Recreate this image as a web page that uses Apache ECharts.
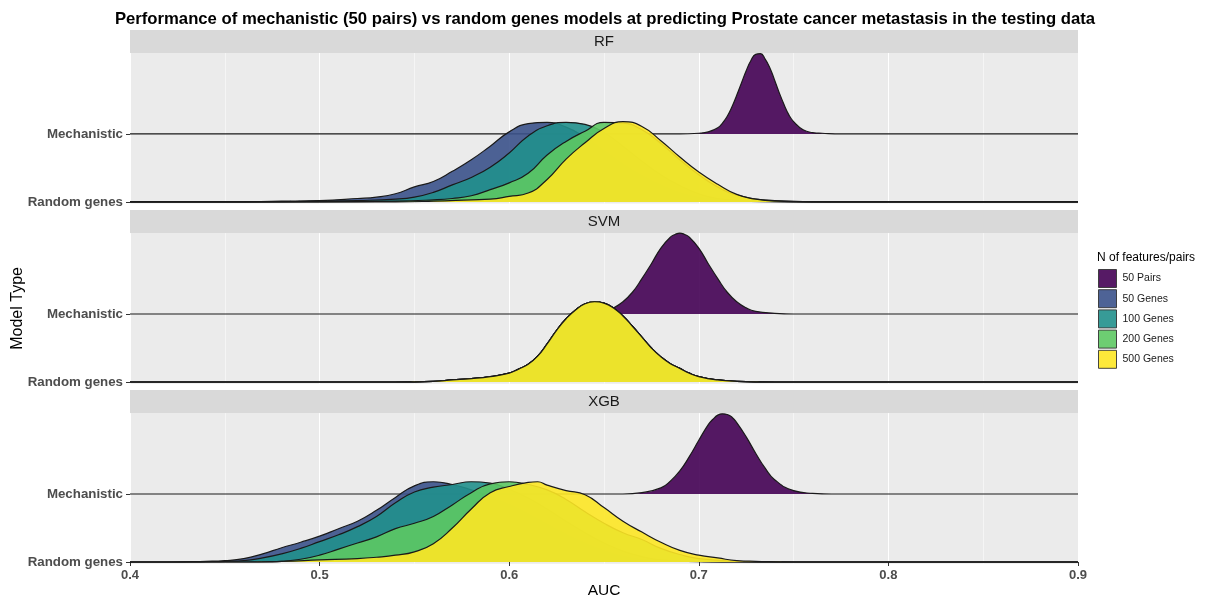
<!DOCTYPE html>
<html>
<head>
<meta charset="utf-8">
<script src="https://cdn.jsdelivr.net/npm/echarts@6/dist/echarts.min.js"></script>
<style>
html,body{margin:0;padding:0;background:#fff;}
#chart{width:1205px;height:601px;}
</style>
</head>
<body>
<div id="chart"></div>
<script>
// ---- Data ----
const facets = ['RF', 'SVM', 'XGB'];
const rowLabels = ['Random genes', 'Mechanistic'];
const groups = ['50 Pairs', '50 Genes', '100 Genes', '200 Genes', '500 Genes'];
const xTicks = [0.4, 0.5, 0.6, 0.7, 0.8, 0.9];

// ridge heights [AUC, height] ; Mechanistic ridges = 50 Pairs, Random ridges = genes
const rfPairs = [[0.4,0],[0.69,0],[0.70,0.01],[0.705,0.03],[0.71,0.09],[0.7125,0.16],[0.715,0.26],[0.7175,0.40],[0.72,0.57],[0.7225,0.75],[0.725,0.93],[0.7275,1.08],[0.73,1.17],[0.7325,1.18],[0.735,1.10],[0.7375,0.97],[0.74,0.79],[0.7425,0.60],[0.745,0.43],[0.7475,0.28],[0.75,0.18],[0.755,0.06],[0.76,0.02],[0.765,0.01],[0.775,0],[0.9,0]];
const rf50 = [[0.4,0],[0.45,0],[0.48,0.01],[0.50,0.02],[0.52,0.05],[0.53,0.07],[0.54,0.12],[0.55,0.22],[0.56,0.30],[0.57,0.45],[0.58,0.62],[0.59,0.82],[0.60,1.03],[0.61,1.15],[0.62,1.17],[0.63,1.10],[0.64,0.95],[0.65,0.75],[0.66,0.55],[0.67,0.38],[0.68,0.24],[0.69,0.13],[0.70,0.06],[0.72,0.01],[0.75,0],[0.9,0]];
const rf100 = [[0.4,0],[0.46,0],[0.50,0.01],[0.52,0.02],[0.54,0.04],[0.55,0.07],[0.56,0.14],[0.57,0.25],[0.58,0.36],[0.59,0.51],[0.60,0.72],[0.61,0.97],[0.62,1.12],[0.63,1.17],[0.64,1.14],[0.65,1.02],[0.66,0.82],[0.67,0.60],[0.68,0.40],[0.69,0.24],[0.70,0.12],[0.71,0.05],[0.73,0.01],[0.76,0],[0.9,0]];
const rf200 = [[0.4,0],[0.50,0],[0.54,0.01],[0.56,0.03],[0.57,0.05],[0.58,0.09],[0.59,0.18],[0.60,0.28],[0.61,0.42],[0.62,0.69],[0.63,0.89],[0.64,1.04],[0.65,1.17],[0.66,1.16],[0.67,1.06],[0.68,0.86],[0.69,0.62],[0.70,0.40],[0.71,0.22],[0.72,0.10],[0.74,0.02],[0.77,0],[0.9,0]];
const rf500 = [[0.4,0],[0.54,0],[0.56,0.01],[0.58,0.03],[0.59,0.04],[0.60,0.08],[0.61,0.13],[0.62,0.33],[0.63,0.63],[0.64,0.87],[0.65,1.08],[0.66,1.18],[0.67,1.11],[0.68,0.90],[0.69,0.66],[0.70,0.44],[0.71,0.26],[0.72,0.11],[0.73,0.04],[0.74,0.01],[0.76,0],[0.9,0]];

const svmPairs = [[0.4,0],[0.63,0],[0.64,0.01],[0.65,0.04],[0.655,0.09],[0.66,0.18],[0.665,0.32],[0.67,0.52],[0.675,0.74],[0.68,0.97],[0.685,1.13],[0.6875,1.17],[0.69,1.19],[0.6925,1.17],[0.695,1.13],[0.70,0.97],[0.705,0.74],[0.71,0.52],[0.715,0.32],[0.72,0.18],[0.725,0.09],[0.73,0.04],[0.74,0.01],[0.75,0],[0.9,0]];
// the four random-gene ridges coincide in the SVM panel
const svmGenes = [[0.4,0],[0.54,0],[0.56,0.01],[0.57,0.03],[0.58,0.05],[0.59,0.08],[0.60,0.13],[0.605,0.19],[0.61,0.26],[0.615,0.38],[0.62,0.56],[0.625,0.76],[0.63,0.93],[0.635,1.06],[0.64,1.15],[0.645,1.18],[0.65,1.16],[0.655,1.09],[0.66,0.97],[0.665,0.82],[0.67,0.66],[0.675,0.50],[0.68,0.37],[0.685,0.27],[0.69,0.20],[0.695,0.13],[0.70,0.08],[0.71,0.03],[0.72,0.01],[0.74,0],[0.9,0]];

const xgbPairs = [[0.4,0],[0.66,0],[0.67,0.02],[0.68,0.09],[0.685,0.19],[0.69,0.34],[0.695,0.55],[0.70,0.79],[0.705,1.02],[0.7075,1.10],[0.71,1.16],[0.7125,1.18],[0.715,1.17],[0.7175,1.13],[0.72,1.05],[0.725,0.84],[0.73,0.60],[0.735,0.38],[0.74,0.21],[0.75,0.05],[0.76,0.01],[0.77,0],[0.9,0]];
const xgb50 = [[0.4,0],[0.42,0],[0.44,0.01],[0.45,0.02],[0.46,0.05],[0.47,0.12],[0.48,0.21],[0.49,0.29],[0.50,0.38],[0.51,0.49],[0.52,0.60],[0.53,0.76],[0.54,0.95],[0.55,1.12],[0.56,1.18],[0.57,1.14],[0.58,1.06],[0.59,0.96],[0.60,0.84],[0.61,0.70],[0.62,0.55],[0.63,0.40],[0.64,0.27],[0.65,0.16],[0.66,0.08],[0.67,0.03],[0.69,0.01],[0.72,0],[0.9,0]];
const xgb100 = [[0.4,0],[0.43,0],[0.45,0.01],[0.46,0.02],[0.47,0.06],[0.48,0.12],[0.49,0.20],[0.50,0.30],[0.51,0.40],[0.52,0.52],[0.53,0.67],[0.54,0.87],[0.55,1.03],[0.56,1.10],[0.57,1.14],[0.58,1.18],[0.59,1.16],[0.60,1.07],[0.61,0.94],[0.62,0.78],[0.63,0.60],[0.64,0.43],[0.65,0.28],[0.66,0.16],[0.67,0.08],[0.68,0.03],[0.70,0.01],[0.72,0],[0.9,0]];
const xgb200 = [[0.4,0],[0.47,0],[0.48,0.01],[0.49,0.04],[0.50,0.10],[0.51,0.19],[0.52,0.28],[0.53,0.37],[0.54,0.49],[0.55,0.57],[0.56,0.67],[0.57,0.84],[0.58,1.02],[0.59,1.15],[0.60,1.18],[0.61,1.14],[0.62,1.06],[0.63,0.92],[0.64,0.74],[0.65,0.57],[0.66,0.43],[0.67,0.33],[0.68,0.20],[0.69,0.11],[0.70,0.05],[0.72,0.01],[0.74,0],[0.9,0]];
const xgb500 = [[0.4,0],[0.46,0],[0.48,0.01],[0.50,0.03],[0.52,0.05],[0.53,0.07],[0.54,0.10],[0.55,0.15],[0.56,0.27],[0.57,0.50],[0.58,0.78],[0.59,1.02],[0.60,1.11],[0.61,1.17],[0.615,1.18],[0.62,1.13],[0.63,1.05],[0.64,0.99],[0.65,0.80],[0.66,0.60],[0.67,0.44],[0.68,0.29],[0.69,0.17],[0.70,0.10],[0.71,0.06],[0.72,0.02],[0.73,0.01],[0.75,0],[0.9,0]];

const ridges = [
  [rfPairs, rf50, rf100, rf200, rf500],
  [svmPairs, svmGenes, svmGenes, svmGenes, svmGenes],
  [xgbPairs, xgb50, xgb100, xgb200, xgb500]
];

// ---- Styling ----
const colors = ['#440154', '#3B528B', '#21908C', '#5DC863', '#FDE725'];
const FONT = 'Liberation Sans, Arial, Helvetica, sans-serif';
const panelTops = [53, 233.1, 413.1];
const panelH = 150.6;
const stripTops = [30, 210, 390];
const PL = 130, PW = 948;

const grids = [], xAxes = [], yAxes = [], series = [], graphics = [];
facets.forEach((f, i) => {
  const last = i === facets.length - 1;
  grids.push({left: PL, top: panelTops[i], width: PW, height: panelH, show: true,
    backgroundColor: '#EBEBEB', borderWidth: 0, containLabel: false, outerBoundsMode: 'none'});
  xAxes.push({type: 'value', gridIndex: i, min: 0.4, max: 0.9, interval: 0.1,
    axisLine: {show: false},
    axisTick: {show: last, length: 4, lineStyle: {color: '#333', width: 1}},
    axisLabel: {show: last, margin: 5, fontFamily: FONT, fontSize: 13, fontWeight: 'bold', color: '#4D4D4D',
      formatter: v => v.toFixed(1), showMinLabel: true, showMaxLabel: true},
    splitLine: {show: true, lineStyle: {color: '#FFFFFF', width: 1.1}},
    minorTick: {show: false, splitNumber: 2},
    minorSplitLine: {show: true, lineStyle: {color: '#FFFFFF', width: 0.5}},
    name: last ? 'AUC' : '', nameLocation: 'middle', nameGap: 19,
    nameTextStyle: {fontFamily: FONT, fontSize: 15.5, color: '#000'}
  });
  yAxes.push({type: 'value', gridIndex: i, min: -0.025, max: 2.19,
    axisLine: {show: false},
    axisTick: {show: true, length: 4, customValues: [0, 1], lineStyle: {color: '#333', width: 1}},
    axisLabel: {show: true, customValues: [0, 1], margin: 7, fontFamily: FONT, fontSize: 13.3, fontWeight: 'bold', color: '#4D4D4D',
      formatter: v => rowLabels[Math.round(v)]},
    splitLine: {show: false},
    name: i === 1 ? 'Model Type' : '', nameLocation: 'middle', nameGap: 104, nameRotate: 90,
    nameMoveOverlap: false,
    nameTextStyle: {fontFamily: FONT, fontSize: 16, color: '#000'}
  });
  ridges[i].forEach((pts, g) => {
    const base = g === 0 ? 1 : 0;
    series.push({
      type: 'line', name: groups[g], xAxisIndex: i, yAxisIndex: i,
      data: pts.map(p => [p[0], base + p[1]]),
      smooth: 0.5, showSymbol: false, symbol: 'none', clip: false, silent: true,
      lineStyle: {color: '#1A1A1A', width: 1.2},
      itemStyle: {color: colors[g], opacity: 0.9},
      areaStyle: {color: colors[g], opacity: 0.9, origin: base},
      emphasis: {disabled: true}, z: 2 + g
    });
  });
  graphics.push({type: 'rect', left: PL, top: stripTops[i], shape: {width: PW, height: 23}, style: {fill: '#D9D9D9'}, silent: true});
  graphics.push({type: 'text', x: PL + PW / 2, y: stripTops[i] + 11.5, style: {text: f, fill: '#1A1A1A', font: '15px ' + FONT, align: 'center', verticalAlign: 'middle'}, silent: true});
});
graphics.push({type: 'text', x: 1097, y: 258, style: {text: 'N of features/pairs', fill: '#000', font: '12px ' + FONT, align: 'left', verticalAlign: 'middle'}, silent: true});

const chart = echarts.init(document.getElementById('chart'), null, {renderer: 'canvas'});
chart.setOption({
  animation: false,
  backgroundColor: '#FFFFFF',
  title: {text: 'Performance of mechanistic (50 pairs) vs random genes models at predicting Prostate cancer metastasis in the testing data',
    left: 600, textAlign: 'center', top: 6,
    textStyle: {fontFamily: FONT, fontSize: 16.7, fontWeight: 'bold', color: '#000'}},
  legend: {orient: 'vertical', left: 1098, top: 269, padding: 0,
    itemWidth: 18, itemHeight: 18, itemGap: 1.2,
    data: groups.map(n => ({name: n, icon: 'rect'})),
    itemStyle: {borderColor: '#333', borderWidth: 1, opacity: 0.9},
    selectedMode: false,
    textStyle: {fontFamily: FONT, fontSize: 10.5, color: '#1A1A1A', padding: [0, 0, 0, 1]}},
  grid: grids, xAxis: xAxes, yAxis: yAxes, series: series, graphic: graphics
});
</script>
</body>
</html>
